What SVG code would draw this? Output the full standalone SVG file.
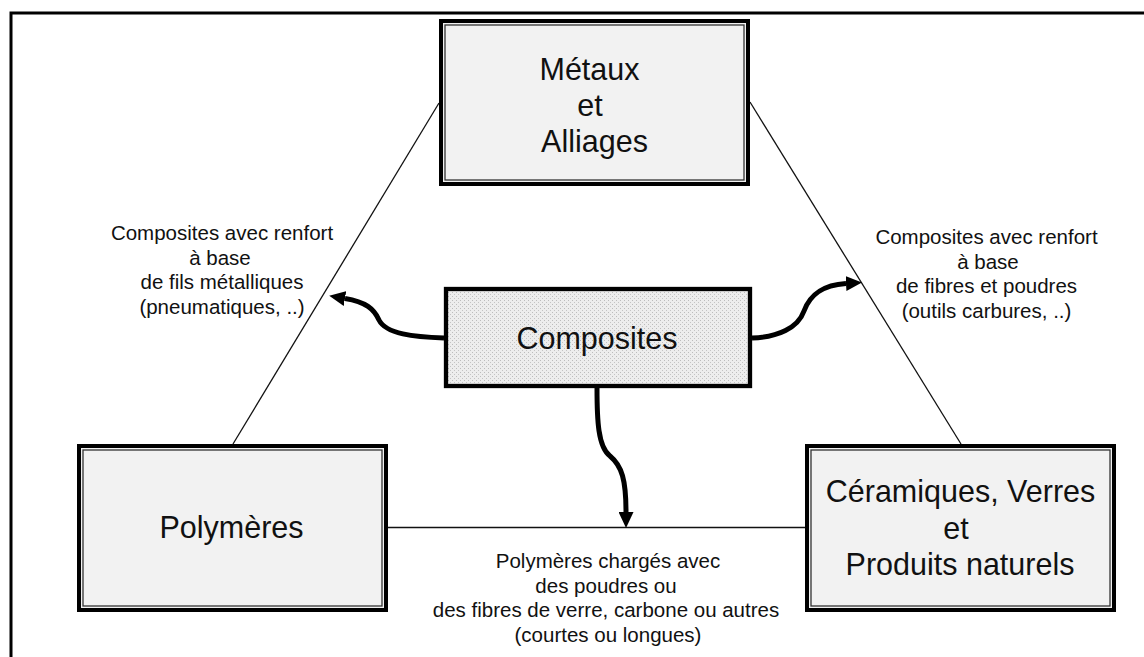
<svg xmlns="http://www.w3.org/2000/svg" width="1144" height="657" viewBox="0 0 1144 657">
  <style>
    .big { font-family: "Liberation Sans", Arial, sans-serif; font-size: 30.5px; fill: #111; text-anchor: middle; }
    .small { font-family: "Liberation Sans", Arial, sans-serif; font-size: 20.5px; fill: #111; text-anchor: middle; }
    .outer { fill: #f2f2f2; stroke: #000; stroke-width: 4; }
    .inner { fill: none; stroke: #333; stroke-width: 1.3; }
    .thin { fill: none; stroke: #111; stroke-width: 1.3; }
    .thick { fill: none; stroke: #000; stroke-width: 5; }
  </style>
  <defs>
    <pattern id="stipple" width="4" height="4" patternUnits="userSpaceOnUse">
      <rect width="4" height="4" fill="#ededed"/>
      <rect x="0" y="0" width="1" height="1" fill="#bcbcbc"/>
      <rect x="2" y="2" width="1" height="1" fill="#c4c4c4"/>
    </pattern>
    <marker id="head" viewBox="0 0 16 15" refX="0" refY="7.5" markerWidth="16" markerHeight="15" markerUnits="userSpaceOnUse" orient="auto">
      <path d="M0,0 L16,7.5 L0,15 z" fill="#000"/>
    </marker>
  </defs>

  <rect width="1144" height="657" fill="#fff"/>

  <!-- page frame -->
  <path d="M11,657 V13 H1144" fill="none" stroke="#000" stroke-width="3"/>

  <!-- connectors -->
  <g id="connectors">
    <line class="thin" x1="233" y1="444" x2="439" y2="103"/>
    <line class="thin" x1="750" y1="102" x2="961" y2="444"/>
    <line class="thin" x1="388" y1="527.5" x2="805" y2="527.5"/>
    <path class="thick" d="M444,338 C414,337 386,334 379,320 C374,309 366,302 345,298.5" marker-end="url(#head)"/>
    <path class="thick" d="M752,338 C778,337 798,328 804,311 C810,295 822,285 846,283.5" marker-end="url(#head)"/>
    <path class="thick" d="M597,388 C597,420 598,447 610,456 C622,466 626,480 626,512" marker-end="url(#head)"/>
  </g>

  <!-- edge labels -->
  <g id="label-left">
    <text class="small" x="222" y="240">Composites avec renfort</text>
    <text class="small" x="220" y="264.5">à base</text>
    <text class="small" x="222" y="289">de fils métalliques</text>
    <text class="small" x="222" y="313.5">(pneumatiques, ..)</text>
  </g>
  <g id="label-right">
    <text class="small" x="986.5" y="244">Composites avec renfort</text>
    <text class="small" x="988" y="268.5">à base</text>
    <text class="small" x="986.5" y="293">de fibres et poudres</text>
    <text class="small" x="986.5" y="317.5">(outils carbures, ..)</text>
  </g>
  <g id="label-bottom">
    <text class="small" x="608" y="568">Polymères chargés avec</text>
    <text class="small" x="606" y="592.5">des poudres ou</text>
    <text class="small" x="606" y="617">des fibres de verre, carbone ou autres</text>
    <text class="small" x="608" y="641.5">(courtes ou longues)</text>
  </g>

  <!-- nodes -->
  <g id="metaux">
    <rect class="outer" x="441" y="21" width="307" height="163"/>
    <rect class="inner" x="445" y="25" width="299" height="155"/>
    <text class="big" x="589.5" y="80">Métaux</text>
    <text class="big" x="590" y="115.5">et</text>
    <text class="big" x="594.5" y="152">Alliages</text>
  </g>

  <g id="polymeres">
    <rect class="outer" x="79" y="446" width="307" height="164"/>
    <rect class="inner" x="83" y="450" width="299" height="156"/>
    <text class="big" x="231.5" y="538">Polymères</text>
  </g>

  <g id="ceramiques">
    <rect class="outer" x="807" y="446" width="307" height="164"/>
    <rect class="inner" x="811" y="450" width="299" height="156"/>
    <text class="big" x="960.5" y="502">Céramiques, Verres</text>
    <text class="big" x="956" y="538.5">et</text>
    <text class="big" x="960" y="575">Produits naturels</text>
  </g>

  <g id="composites">
    <rect x="446" y="289" width="304" height="97" fill="url(#stipple)" stroke="#000" stroke-width="4.3"/>
    <text class="big" x="597" y="348.5">Composites</text>
  </g>
</svg>
